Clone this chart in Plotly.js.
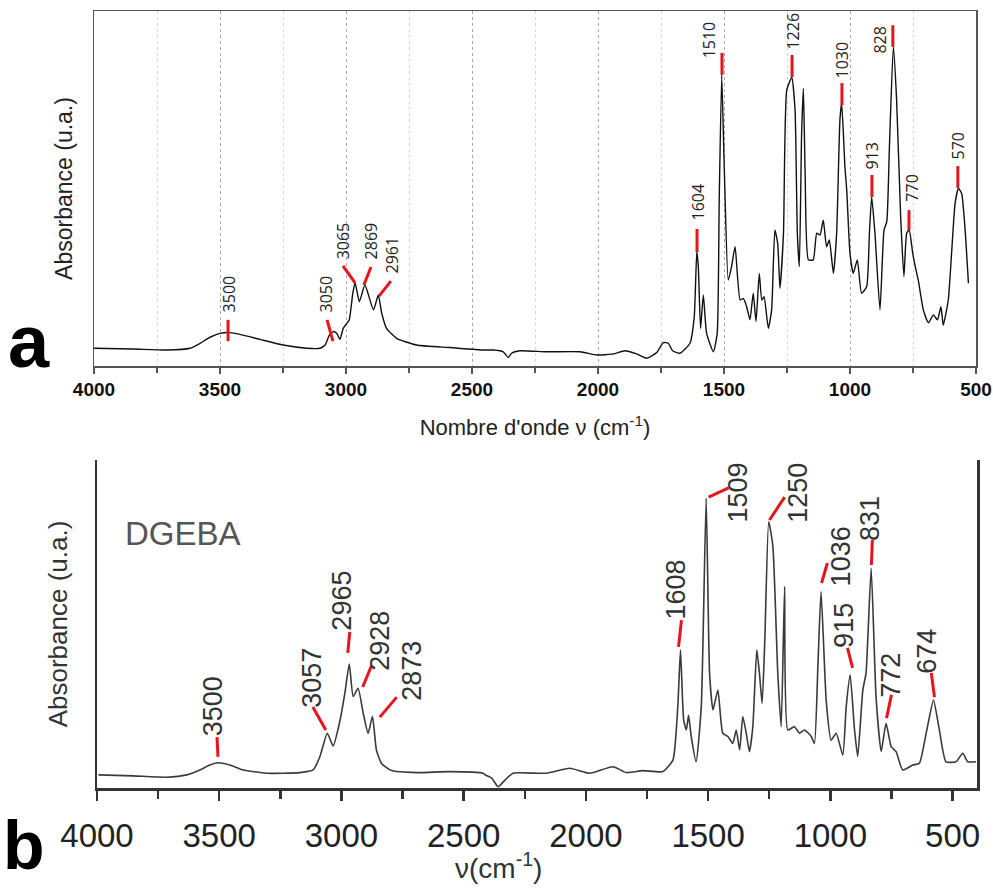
<!DOCTYPE html>
<html><head><meta charset="utf-8">
<script src="https://cdn.plot.ly/plotly-3.0.1.min.js"></script>
<style>html,body{margin:0;padding:0;background:#fff}#chart{width:993px;height:888px}</style>
</head><body><div id="chart"></div>
<script>
// ---------- Panel a : spectrum ----------
const wnA = [4000,3844,3712,3619,3579,3540,3500,3460,3421,3341,3249,3156,3103,3083,3066,3050,3037,3024,3011,2997,2987,2973,2964,2947,2925,2891,2872,2858,2839,2799,2720,2587,2455,2415,2376,2356,2343,2310,2204,2071,2005,1939,1893,1847,1807,1767,1741,1721,1704,1675,1635,1618,1608,1602,1593,1582,1569,1542,1527,1519,1509,1499,1483,1470,1456,1436,1423,1410,1397,1384,1373,1360,1350,1341,1324,1311,1298,1287,1278,1264,1251,1231,1218,1209,1201,1192,1185,1178,1165,1146,1132,1119,1106,1093,1082,1066,1053,1040,1033,1020,1013,1000,987,971,954,934,923,914,901,881,865,854,844,828,815,799,786,775,765,751,738,729,709,689,669,653,639,630,610,597,583,570,557,544,530];
const absA = [0.05,0.048,0.045,0.05,0.064,0.081,0.092,0.094,0.089,0.075,0.059,0.05,0.05,0.059,0.087,0.097,0.092,0.075,0.106,0.12,0.13,0.205,0.235,0.181,0.228,0.158,0.2,0.148,0.106,0.078,0.059,0.052,0.045,0.045,0.04,0.024,0.036,0.043,0.04,0.04,0.031,0.034,0.043,0.034,0.022,0.038,0.066,0.064,0.043,0.036,0.064,0.139,0.322,0.28,0.106,0.2,0.092,0.04,0.092,0.467,0.82,0.56,0.242,0.28,0.336,0.186,0.19,0.167,0.13,0.205,0.125,0.261,0.186,0.195,0.106,0.158,0.383,0.346,0.219,0.374,0.777,0.813,0.721,0.374,0.28,0.655,0.782,0.543,0.299,0.299,0.374,0.369,0.411,0.336,0.355,0.261,0.374,0.693,0.74,0.56,0.496,0.317,0.261,0.299,0.205,0.223,0.374,0.477,0.374,0.158,0.383,0.407,0.608,0.9,0.749,0.421,0.252,0.374,0.383,0.317,0.27,0.242,0.158,0.122,0.144,0.13,0.167,0.115,0.186,0.317,0.458,0.5,0.486,0.392,0.233];

// peak marks, panel a (marker top point and bottom point)
const peakLabA = ['3500','3050','3065','2869','2961','1604','1510','1226','1030','913','828','770','570'];
const peakTopXA = [3468,3075,3012,2901,2822,1607,1508,1230,1032,913,830,766,572];
const peakTopYA = [0.13,0.13,0.282,0.279,0.239,0.386,0.882,0.876,0.797,0.538,0.96,0.439,0.563];
const peakBotXA = [3468,3052,2964,2929,2869,1607,1508,1230,1032,913,830,766,572];
const peakBotYA = [0.07,0.07,0.234,0.228,0.197,0.321,0.82,0.814,0.735,0.476,0.899,0.383,0.501];

// ---------- Panel b : DGEBA spectrum ----------
const wnB = [3994,3851,3715,3633,3579,3538,3504,3456,3402,3306,3170,3116,3088,3058,3034,3007,2986,2968,2952,2932,2911,2891,2873,2857,2836,2795,2693,2557,2421,2407,2385,2359,2330,2298,2162,2066,1985,1889,1835,1767,1685,1644,1624,1613,1600,1589,1580,1569,1549,1528,1508,1494,1480,1460,1440,1419,1399,1385,1371,1358,1344,1331,1317,1301,1290,1279,1268,1252,1235,1215,1201,1187,1174,1147,1126,1106,1078,1065,1051,1038,1017,997,976,949,935,919,901,888,867,854,833,813,792,772,751,731,704,663,636,608,578,554,527,486,458,438,404];
const absB = [0.04,0.037,0.033,0.04,0.055,0.07,0.077,0.07,0.055,0.045,0.047,0.055,0.096,0.167,0.128,0.202,0.289,0.378,0.279,0.304,0.228,0.167,0.218,0.116,0.075,0.053,0.047,0.05,0.045,0.038,0.03,0.004,0.025,0.045,0.045,0.06,0.045,0.065,0.047,0.053,0.05,0.085,0.248,0.421,0.207,0.177,0.222,0.157,0.08,0.248,0.883,0.35,0.238,0.299,0.167,0.157,0.136,0.177,0.116,0.218,0.167,0.111,0.187,0.421,0.35,0.258,0.451,0.812,0.736,0.35,0.187,0.614,0.177,0.187,0.167,0.177,0.157,0.136,0.37,0.599,0.268,0.146,0.167,0.1,0.248,0.345,0.177,0.096,0.299,0.35,0.67,0.278,0.111,0.197,0.126,0.111,0.055,0.07,0.075,0.167,0.268,0.177,0.08,0.08,0.106,0.08,0.08];

const peakLabB = ['3500','3057','2965','2928','2873','1608','1509','1250','1036','915','831','772','674'];
const peakTopXB = [3509,3117,2966,2876,2774,1609,1416,1187,1012,930,828,750,587];
const peakTopYB = [0.155,0.247,0.476,0.375,0.277,0.512,0.915,0.887,0.686,0.427,0.756,0.284,0.351];
const peakBotXB = [3505,3064,2974,2913,2843,1621,1498,1249,1036,909,832,770,574];
const peakBotYB = [0.095,0.177,0.412,0.308,0.216,0.43,0.887,0.817,0.625,0.366,0.68,0.213,0.277];

const tickVals = [4000,3500,3000,2500,2000,1500,1000,500];
const tickText = ['4000','3500','3000','2500','2000','1500','1000','500'];

// ---------- label placement (pixel shifts) ----------
const shiftA = [[1,6],[-1,6],[0,6],[1,7],[1,7],[1,7],[-13,-6],[0,4],[0,4],[0,5],[-13,-29],[3,8],[0,6]];
const shiftB = [[-4,0],[-1,-2],[-8,0],[8,-7],[15,-5],[-5,0],[9,-36],[13,-27],[14,-24],[-3,-1],[-3,-2],[0,-4],[-4,-2]];

const RED = '#e8141c';
const ARIAL = 'Liberation Sans, Arial, sans-serif';
function segs(tx, ty, bx, by) {
  const x = [], y = [];
  for (let i = 0; i < tx.length; i++) { x.push(tx[i], bx[i], null); y.push(ty[i], by[i], null); }
  return {x, y};
}
const sA = segs(peakTopXA, peakTopYA, peakBotXA, peakBotYA);
const sB = segs(peakTopXB, peakTopYB, peakBotXB, peakBotYB);

const traces = [
  {x: wnA, y: absA, xaxis: 'x', yaxis: 'y', mode: 'lines', line: {color: '#111', width: 1.4, shape: 'spline', smoothing: 0.5}, name: 'a', hoverinfo: 'x+y'},
  {x: sA.x, y: sA.y, xaxis: 'x', yaxis: 'y', mode: 'lines', line: {color: RED, width: 3}, name: 'pics a', hoverinfo: 'skip'},
  {x: wnB, y: absB, xaxis: 'x2', yaxis: 'y2', mode: 'lines', line: {color: '#3a3a3a', width: 1.6, shape: 'spline', smoothing: 0.5}, name: 'DGEBA', hoverinfo: 'x+y'},
  {x: sB.x, y: sB.y, xaxis: 'x2', yaxis: 'y2', mode: 'lines', line: {color: RED, width: 3}, name: 'pics b', hoverinfo: 'skip'}
];

const ann = [];
peakLabA.forEach((t, i) => ann.push({
  text: t, x: peakTopXA[i], y: peakTopYA[i], xref: 'x', yref: 'y', showarrow: false,
  textangle: -90, xanchor: 'center', yanchor: 'bottom', xshift: shiftA[i][0], yshift: shiftA[i][1],
  font: {family: 'Open Sans, sans-serif', size: 16, color: '#222'}, borderpad: 0
}));
peakLabB.forEach((t, i) => ann.push({
  text: t, x: peakTopXB[i], y: peakTopYB[i], xref: 'x2', yref: 'y2', showarrow: false,
  textangle: -90, xanchor: 'center', yanchor: 'bottom', xshift: shiftB[i][0], yshift: shiftB[i][1],
  font: {family: ARIAL, size: 27, color: '#333'}, borderpad: 0
}));
ann.push({text: 'a', xref: 'paper', yref: 'paper', x: 29/993, y: 1 - 341/888, showarrow: false,
  xanchor: 'center', yanchor: 'middle', font: {family: ARIAL, size: 74, color: '#000', weight: 'bold'}});
ann.push({text: 'b', xref: 'paper', yref: 'paper', x: 24/993, y: 1 - 845/888, showarrow: false,
  xanchor: 'center', yanchor: 'middle', font: {family: ARIAL, size: 68, color: '#000', weight: 'bold'}});
ann.push({text: 'DGEBA', xref: 'paper', yref: 'paper', x: 183/993, y: 1 - 533/888, showarrow: false,
  xanchor: 'center', yanchor: 'middle', font: {family: ARIAL, size: 33, color: '#555'}});
ann.push({text: 'ν(cm<sup>-1</sup>)', xref: 'paper', yref: 'paper', x: 498/993, y: 1 - 866/888, showarrow: false,
  xanchor: 'center', yanchor: 'middle', font: {family: ARIAL, size: 28, color: '#333'}});

const layout = {
  width: 993, height: 888, margin: {l: 0, r: 0, t: 0, b: 0},
  paper_bgcolor: '#fff', plot_bgcolor: '#fff', showlegend: false,
  xaxis: {
    domain: [94/993, 976/993], anchor: 'y', range: [4000, 500], autorange: false,
    tickvals: tickVals, ticktext: tickText, ticks: 'outside', ticklen: 6, tickcolor: '#555', tickwidth: 1.2,
    minor: {dtick: 250, tick0: 0, ticks: 'outside', ticklen: 5, tickcolor: '#555', showgrid: true, gridcolor: '#d6d6d6', griddash: 'dot', gridwidth: 1},
    showgrid: true, gridcolor: '#aaa', griddash: 'dot', gridwidth: 1,
    showline: true, mirror: true, linecolor: '#555', linewidth: 1.5, zeroline: false,
    tickfont: {family: ARIAL, size: 19, color: '#111', weight: 'bold'},
    title: {text: "Nombre d'onde ν (cm<sup>-1</sup>)", standoff: 20, font: {family: ARIAL, size: 22, color: '#222'}}
  },
  yaxis: {
    domain: [1 - 366/888, 1 - 11/888], anchor: 'x', range: [0, 1], autorange: false,
    showticklabels: false, ticks: '', showgrid: false, zeroline: false,
    showline: true, mirror: true, linecolor: '#555', linewidth: 1.5,
    title: {text: 'Absorbance (u.a.)', standoff: 13, font: {family: ARIAL, size: 23, color: '#222'}}
  },
  xaxis2: {
    domain: [97/993, 977/993], anchor: 'y2', range: [4000, 400], autorange: false,
    tickvals: tickVals, ticktext: tickText, ticks: 'outside', ticklen: 10, tickwidth: 2.5, tickcolor: '#333',
    minor: {dtick: 250, tick0: 0, ticks: 'outside', ticklen: 8, tickwidth: 2.5, tickcolor: '#333', showgrid: false},
    showgrid: false, zeroline: false, showline: true, mirror: false, linecolor: '#333', linewidth: 2.5,
    ticklabelstandoff: 7,
    tickfont: {family: ARIAL, size: 33, color: '#222'}
  },
  yaxis2: {
    domain: [1 - 788/888, 1 - 460/888], anchor: 'x2', range: [0, 1], autorange: false,
    showticklabels: false, ticks: '', showgrid: false, zeroline: false,
    showline: true, mirror: true, linecolor: '#333', linewidth: 2.5,
    title: {text: 'Absorbance (u.a.)', standoff: 20, font: {family: ARIAL, size: 26, color: '#333'}}
  },
  annotations: ann
};

Plotly.newPlot('chart', traces, layout, {displayModeBar: false, staticPlot: true});
</script></body></html>
